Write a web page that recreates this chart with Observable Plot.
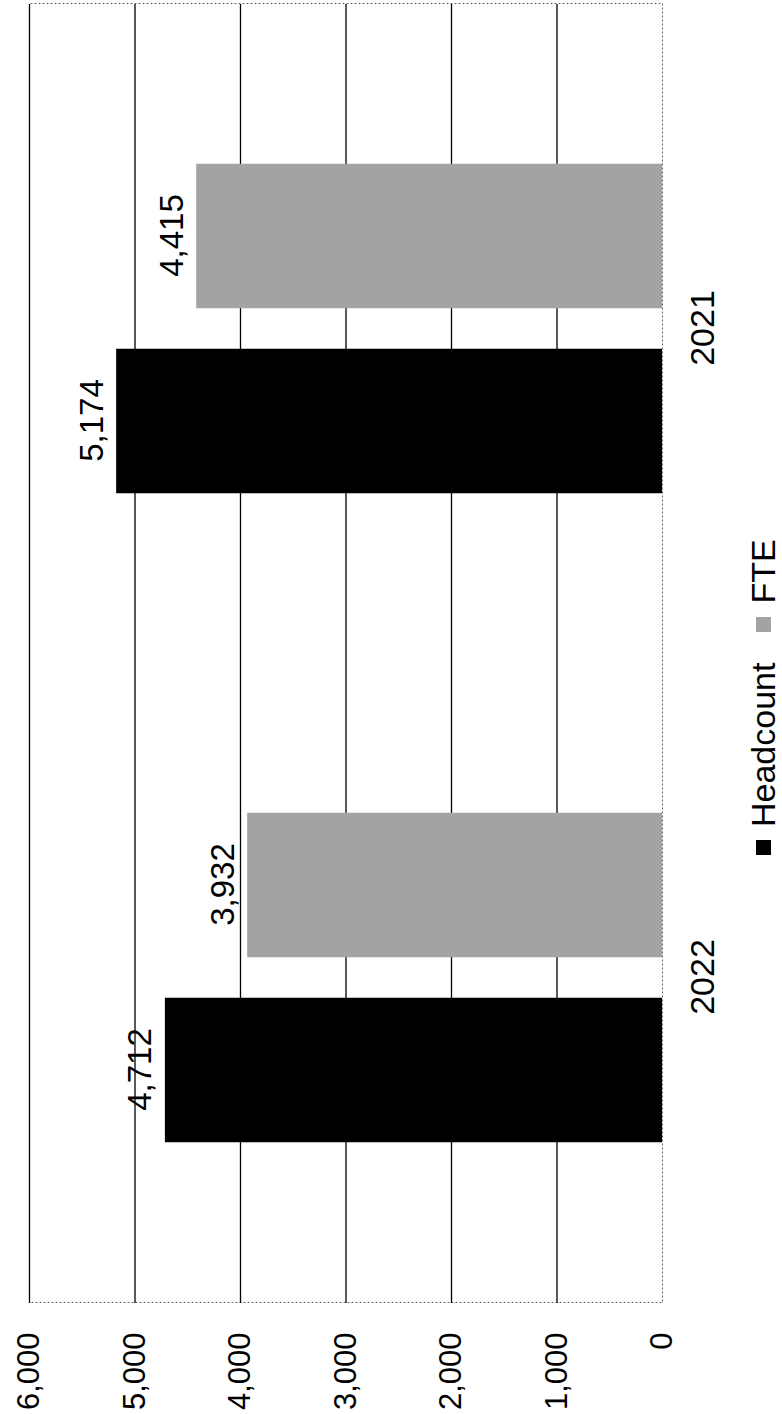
<!DOCTYPE html>
<html><head><meta charset="utf-8">
<script src="https://cdn.jsdelivr.net/npm/d3@7"></script>
<script src="https://cdn.jsdelivr.net/npm/@observablehq/plot@0.6"></script>
<style>
html,body{margin:0;padding:0;background:#fff;}
#page{position:relative;width:782px;height:1414px;overflow:hidden;background:#fff;}
#rot{position:absolute;left:0;top:0;width:1414px;height:782px;transform-origin:0 0;transform:translate(0px,1414px) rotate(-90deg);font-family:"Liberation Sans",Arial,sans-serif;}
#legend{height:37px;display:flex;align-items:center;padding-left:559px;}
.lg-swatches{margin:0 !important;min-height:0 !important;}
.lg-swatch{margin-right:31px !important;}
.lg-swatch > svg{margin-right:13px !important;}
</style></head><body>
<div id="page"><div id="rot"><div id="chart"></div><div id="legend"></div></div></div>
<script>
const years = ["2022", "2021"];
const series = ["Headcount", "FTE"];
const headcount = [4712, 5174];
const fte = [3932, 4415];
const yTicks = [0, 1000, 2000, 3000, 4000, 5000, 6000];
const colors = ["#000000", "#a3a3a3"];

const data = years.flatMap((yr, i) => [
  {year: yr, series: "Headcount", value: headcount[i]},
  {year: yr, series: "FTE", value: fte[i]}
]);

const W = 1414, H = 745, mL = 111, mR = 4, mT = 29, mB = 83;
const bw = (W - mL - mR) / years.length;
const barW = 145, gap = 40;
const outer = (bw - 2 * barW - gap) / 2;
const insets = {Headcount: [outer, bw - outer - barW], FTE: [outer + barW + gap, outer]};
const offsets = {Headcount: -(gap / 2 + barW / 2), FTE: gap / 2 + barW / 2};
const font = '"Liberation Sans", Arial, sans-serif';
const fmt = d3.format(",");

const chart = Plot.plot({
  width: W, height: H,
  marginLeft: mL, marginRight: mR, marginTop: mT, marginBottom: mB,
  x: {domain: years, padding: 0},
  y: {domain: [0, 6000]},
  color: {domain: series, range: colors},
  style: {fontFamily: font, background: "#fff", color: "#000"},
  marks: [
    Plot.frame({stroke: "#666", strokeDasharray: "2,2"}),
    Plot.ruleY(yTicks.filter(d => d > 0), {stroke: "#000", strokeWidth: 1.3}),
    ...series.map(s => Plot.barY(data.filter(d => d.series === s), {
      x: "year", y: "value", fill: "series",
      insetLeft: insets[s][0], insetRight: insets[s][1]
    })),
    ...series.map(s => Plot.text(data.filter(d => d.series === s), {
      x: "year", y: "value", text: d => fmt(d.value),
      dx: offsets[s], dy: -14, lineAnchor: "bottom", fontSize: 33, fill: "#000"
    })),
    Plot.axisY({ticks: yTicks, tickFormat: fmt, tickSize: 0, tickPadding: 30, fontSize: 31, label: null}),
    Plot.axisX({tickSize: 0, tickPadding: 27, fontSize: 34, label: null})
  ]
});
document.getElementById("chart").appendChild(chart);

const legend = Plot.legend({
  color: {domain: series, range: colors},
  legend: "swatches", swatchSize: 15, className: "lg",
  style: {fontSize: "34px", fontFamily: font, color: "#000"}
});
document.getElementById("legend").appendChild(legend);
</script>
</body></html>
